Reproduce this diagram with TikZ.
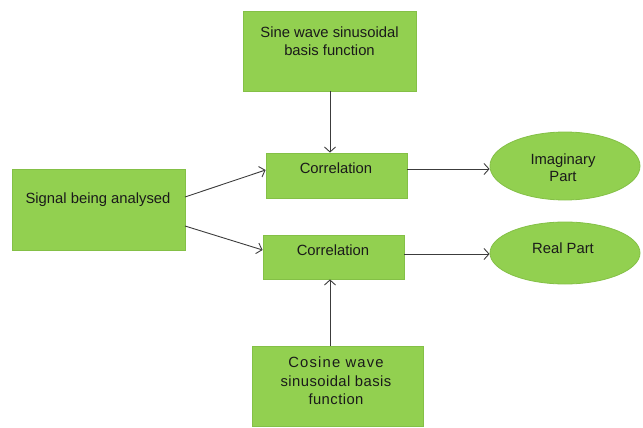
\documentclass[tikz,border=0pt]{standalone}
\usepackage{fontspec}
\setmainfont{Liberation Sans}
\usetikzlibrary{arrows.meta,shapes.geometric}
\definecolor{gfill}{HTML}{92D050}
\definecolor{gline}{HTML}{84C046}
\definecolor{aline}{HTML}{3C3C3C}
\definecolor{tcol}{HTML}{1A1A1A}
\tikzset{
  box/.style={draw=gline, fill=gfill, line width=0.8pt, inner sep=0pt},
  oval/.style={ellipse, draw=gline, fill=gfill, line width=0.8pt, inner sep=0pt},
  txt/.style={font=\fontsize{14.8pt}{18.5pt}\selectfont, text=tcol, align=center, inner sep=0pt},
  conn/.style={draw=aline, line width=0.9pt, -{Straight Barb[length=5pt,width=11pt,line width=0.9pt]}}
}
\begin{document}
\begin{tikzpicture}[x=1pt,y=-1pt]
\useasboundingbox (0,0) rectangle (643,428);
% boxes
\node[box, minimum width=173pt, minimum height=80pt] (sine) at (329.5,51) {};
\node[txt] (sinet) at (329.5,41) {Sine wave sinusoidal\\basis function};
\node[box, minimum width=173pt, minimum height=81pt] (sig) at (98.5,209.5) {};
\node[txt] (sigt) at (98,200) {Signal being analysed};
\node[box, minimum width=141pt, minimum height=45pt] (c1) at (336.5,175.5) {};
\node[txt] (c1t) at (336,168) {Correlation};
\node[box, minimum width=141pt, minimum height=44pt] (c2) at (333.5,257) {};
\node[txt] (c2t) at (333,250) {Correlation};
\node[box, minimum width=171pt, minimum height=80pt] (cos) at (337.5,386) {};
\node[txt] (cost) at (336,381) {{\addfontfeature{LetterSpace=8}Cosine wave}\\{\addfontfeature{LetterSpace=3}sinusoidal basis}\\{\addfontfeature{LetterSpace=3}function}};
% ellipses
\node[oval, minimum width=150pt, minimum height=68pt] (im) at (565,166) {};
\node[txt, font=\fontsize{14.8pt}{17.5pt}\selectfont] (imt) at (563,167.5) {Imaginary\\Part};
\node[oval, minimum width=150pt, minimum height=62pt] (re) at (565,253) {};
\node[txt] (ret) at (563,248) {Real Part};
% connectors
\coordinate (s1) at (185,197);
\coordinate (s2) at (185,226);
\draw[conn] (sine.south -| 330,0) -- (c1.north -| 330,0);
\draw[conn] (cos.north -| 330,0) -- (c2.south -| 330,0);
\draw[conn] (s1) -- (c1.west |- 0,170);
\draw[conn] (s2) -- (c2.west |- 0,250);
\draw[conn] (c1.east |- 0,169) -- (im.west |- 0,169);
\draw[conn] (c2.east |- 0,254) -- (re.west |- 0,254);
\end{tikzpicture}
\end{document}
